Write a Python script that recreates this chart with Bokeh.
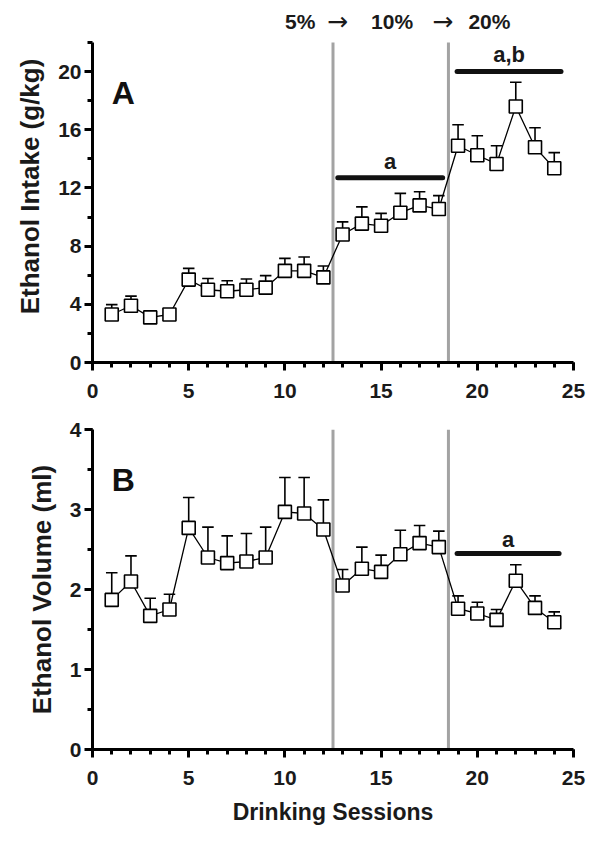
from bokeh.plotting import figure
from bokeh.layouts import column
from bokeh.models import FixedTicker, ColumnDataSource, Range1d
from bokeh.core.properties import value
from bokeh.embed import file_html
from bokeh.resources import INLINE

# ---------------- data ----------------
sessions = list(range(1, 25))
intake_mean = [3.3, 3.9, 3.1, 3.3, 5.7, 5.0, 4.9, 5.0, 5.15, 6.3, 6.3, 5.85,
               8.8, 9.55, 9.4, 10.3, 10.8, 10.55, 14.9, 14.25, 13.65, 17.6, 14.8, 13.35]
intake_sem = [0.68, 0.66, 0.3, 0.3, 0.77, 0.78, 0.72, 0.74, 0.82, 0.86, 0.95, 0.78,
              0.87, 1.15, 0.85, 1.33, 0.94, 0.92, 1.45, 1.34, 1.25, 1.67, 1.34, 1.08]
volume_mean = [1.87, 2.10, 1.67, 1.75, 2.77, 2.40, 2.33, 2.35, 2.40, 2.97, 2.95, 2.75,
               2.05, 2.26, 2.22, 2.44, 2.58, 2.53, 1.76, 1.70, 1.62, 2.11, 1.77, 1.59]
volume_sem = [0.34, 0.32, 0.22, 0.19, 0.38, 0.38, 0.34, 0.35, 0.38, 0.43, 0.45, 0.37,
              0.20, 0.27, 0.21, 0.30, 0.22, 0.20, 0.16, 0.14, 0.13, 0.20, 0.15, 0.13]
phase_bounds = [12.5, 18.5]
concentration_labels = ["5%", "10%", "20%"]
arrow_label = "\u2192"
x_ticks = [0, 5, 10, 15, 20, 25]
intake_ticks = [0, 4, 8, 12, 16, 20]
volume_ticks = [0, 1, 2, 3, 4]
# significance bars: (start, end, level, label, label centre)
intake_sig = [(12.75, 18.2, 12.7, "a", 13.84), (18.95, 24.35, 20.0, "a,b", 21.16)]
volume_sig = [(18.95, 24.25, 2.45, "a", 2.62)]

# ---------------- layout constants ----------------
FONT = "Liberation Sans"
CAP_HALF = 0.3
INTAKE_AXIS_MAX = 22
INTAKE_VIEW_MAX = 24.2      # extra headroom above the axis for the concentration row
VOLUME_AXIS_MAX = 4
CONC_X = [10.8, 15.57, 20.63]
ARROW_X = [12.73, 18.2]
CONC_Y = 23.44


def style_axes(p, yticks, yminor):
    p.outline_line_color = None
    p.grid.visible = False
    p.xaxis.ticker = FixedTicker(ticks=x_ticks, minor_ticks=list(range(0, 26)))
    p.yaxis.ticker = FixedTicker(ticks=yticks, minor_ticks=yminor)
    for ax in (p.xaxis, p.yaxis):
        ax.axis_line_width = 3
        ax.axis_line_color = "black"
        ax.major_tick_line_width = 3
        ax.minor_tick_line_width = 3
        ax.major_tick_out = 8
        ax.major_tick_in = 0
        ax.minor_tick_out = 5
        ax.minor_tick_in = 0
        ax.major_label_text_font = FONT
        ax.major_label_text_font_style = "bold"
        ax.major_label_text_font_size = "21px"
        ax.major_label_text_color = "#1a1a1a"
        ax.axis_label_text_font = FONT
        ax.axis_label_text_font_style = "bold"
        ax.axis_label_text_color = "#1a1a1a"
    p.xaxis.axis_label_text_font_size = "23px"
    p.yaxis.axis_label_text_font_size = "26px"
    p.xaxis.major_label_standoff = 13
    p.yaxis.major_label_standoff = 3
    p.yaxis.axis_label_standoff = 10


def draw_series(p, mean, sem, sig, axis_max):
    p.segment(x0=phase_bounds, y0=[0] * len(phase_bounds), x1=phase_bounds,
              y1=[axis_max] * len(phase_bounds), line_color="#a3a3a3", line_width=3)
    tops = [m + s for m, s in zip(mean, sem)]
    src = ColumnDataSource(dict(
        x=sessions, y=mean, top=tops,
        cx0=[x - CAP_HALF for x in sessions], cx1=[x + CAP_HALF for x in sessions]))
    p.line("x", "y", source=src, line_color="black", line_width=1.3)
    p.segment(x0="x", y0="y", x1="x", y1="top", source=src, line_color="black", line_width=1.6)
    p.segment(x0="cx0", y0="top", x1="cx1", y1="top", source=src, line_color="black", line_width=1.6)
    p.scatter("x", "y", source=src, marker="square", size=13, fill_color="white",
              line_color="black", line_width=1.6)
    sig_src = ColumnDataSource(dict(
        x0=[s[0] for s in sig], x1=[s[1] for s in sig], lvl=[s[2] for s in sig],
        txt=[s[3] for s in sig], ty=[s[4] for s in sig],
        tx=[(s[0] + s[1]) / 2 for s in sig]))
    p.segment(x0="x0", y0="lvl", x1="x1", y1="lvl", source=sig_src, line_color="#111111",
              line_width=5, line_cap="round")
    p.text(x="tx", y="ty", text="txt", source=sig_src, text_font=value(FONT),
           text_font_style="bold", text_font_size="22px", text_align="center",
           text_baseline="middle", text_color="#1a1a1a")


def panel_letter(p, x, y, letter):
    p.text(x=[x], y=[y], text=[letter], text_font=value(FONT), text_font_style="bold",
           text_font_size="32px", text_align="center", text_baseline="middle",
           text_color="#111111")


# ---------------- panel A ----------------
pA = figure(width=595, height=404, x_range=Range1d(0, 25), y_range=Range1d(0, INTAKE_VIEW_MAX),
            output_backend="svg", toolbar_location=None,
            min_border_left=92, min_border_right=22, min_border_top=10, min_border_bottom=42)
style_axes(pA, intake_ticks, list(range(0, INTAKE_AXIS_MAX + 1, 2)))
pA.yaxis.bounds = (0, INTAKE_AXIS_MAX)
pA.yaxis.axis_label = "Ethanol Intake (g/kg)"
draw_series(pA, intake_mean, intake_sem, intake_sig, INTAKE_AXIS_MAX)
panel_letter(pA, 1.6, 18.5, "A")
pA.text(x=CONC_X, y=[CONC_Y] * len(CONC_X), text=concentration_labels, text_font=value(FONT),
        text_font_style="bold", text_font_size="21px", text_align="center",
        text_baseline="middle", text_color="#1a1a1a")
pA.text(x=ARROW_X, y=[CONC_Y] * len(ARROW_X), text=[arrow_label] * len(ARROW_X),
        text_font=value("DejaVu Sans"), text_font_size="25px", text_align="center",
        text_baseline="middle", text_color="#1a1a1a")

# ---------------- panel B ----------------
pB = figure(width=595, height=427, x_range=Range1d(0, 25), y_range=Range1d(0, VOLUME_AXIS_MAX),
            output_backend="svg", toolbar_location=None,
            min_border_left=92, min_border_right=22, min_border_top=25, min_border_bottom=82)
style_axes(pB, volume_ticks, [v / 2 for v in range(0, 9)])
pB.yaxis.axis_label = "Ethanol Volume (ml)"
pB.xaxis.axis_label = "Drinking Sessions"
pB.xaxis.axis_label_standoff = 11
draw_series(pB, volume_mean, volume_sem, volume_sig, VOLUME_AXIS_MAX)
panel_letter(pB, 1.6, 3.37, "B")

layout = column(pA, pB, spacing=0)
open("out.html", "w").write(file_html(layout, INLINE))
